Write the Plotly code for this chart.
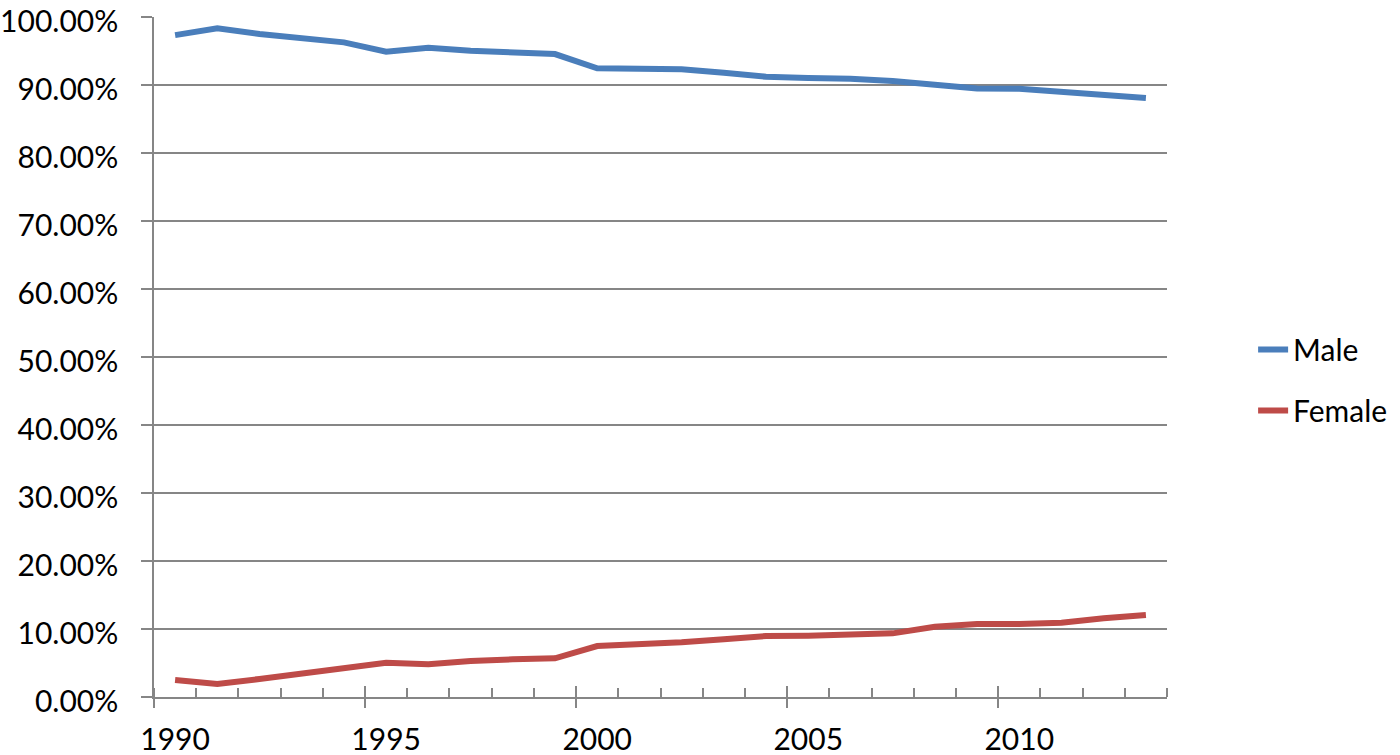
import plotly.graph_objects as go

years = list(range(1990, 2014))
male = [97.35, 98.34, 97.5, 96.87, 96.28, 94.9, 95.49, 95.04, 94.81, 94.56,
        92.46, 92.31, 92.31, 91.81, 91.22, 91.03, 90.93, 90.59, 90.0, 89.51,
        89.46, 89.01, 88.57, 88.09]
female = [2.5, 1.91, 2.65, 3.38, 4.12, 5.04, 4.8, 5.29, 5.54, 5.69,
          7.5, 7.75, 8.04, 8.48, 8.97, 9.01, 9.26, 9.36, 10.34, 10.74,
          10.74, 10.93, 11.57, 12.06]
tick_years = [1990, 1995, 2000, 2005, 2010]
tick_labels = [str(y) for y in tick_years]
y_ticks = [i / 10 for i in range(11)]

male_frac = [v / 100 for v in male]
female_frac = [v / 100 for v in female]

GRAY = "#868686"
FONT = dict(family="Lato, 'Liberation Sans', sans-serif", size=30, color="#000000")

fig = go.Figure()
fig.add_trace(go.Scatter(x=years, y=male_frac, mode="lines", name="Male",
                         line=dict(color="#4A7EBB", width=6), legendgroup="m"))
fig.add_trace(go.Scatter(x=years, y=female_frac, mode="lines", name="Female",
                         line=dict(color="#BE4B48", width=6), legendgroup="f"))
# helper traces so tick-only axes are drawn
fig.add_trace(go.Scatter(x=[None], y=[None], xaxis="x2", showlegend=False, hoverinfo="skip"))
fig.add_trace(go.Scatter(x=[None], y=[None], xaxis="x3", showlegend=False, hoverinfo="skip"))

xr = [years[0] - 0.5, years[-1] + 0.5]

fig.update_layout(
    width=1400, height=755,
    margin=dict(l=154, r=233, t=17, b=58, autoexpand=False),
    paper_bgcolor="white", plot_bgcolor="white",
    font=FONT,
    showlegend=True,
    legend=dict(x=1.085, xanchor="left", y=0.466, yanchor="middle",
                traceorder="grouped", tracegroupgap=19,
                font=FONT, bgcolor="rgba(0,0,0,0)"),
    xaxis=dict(range=xr, tickvals=tick_years, ticktext=tick_labels,
               ticks="", showgrid=False, zeroline=False, automargin=False,
               showline=True, linecolor=GRAY, linewidth=1.5,
               tickfont=FONT, ticklabelstandoff=15, ticklabeloverflow="allow"),
    xaxis2=dict(range=xr, overlaying="x", anchor="y", side="bottom",
                tick0=xr[0], dtick=5, ticks="outside", ticklen=10,
                tickcolor=GRAY, tickwidth=1.5, showticklabels=False,
                showgrid=False, zeroline=False, showline=False, automargin=False,
                minor=dict(ticks="inside", tick0=xr[0], dtick=1, ticklen=9,
                           tickcolor=GRAY, tickwidth=1.5, showgrid=False)),
    xaxis3=dict(range=xr, overlaying="x", anchor="y", side="bottom",
                tick0=xr[0], dtick=5, ticks="inside", ticklen=11,
                tickcolor=GRAY, tickwidth=1.5, showticklabels=False,
                showgrid=False, zeroline=False, showline=False, automargin=False),
    yaxis=dict(range=[0, 1.0001], tickvals=y_ticks, tickformat=".2%",
               showgrid=True, gridcolor=GRAY, gridwidth=1.5,
               zeroline=False, showline=True, linecolor=GRAY, linewidth=1.5,
               ticks="outside", ticklen=11, tickcolor=GRAY, tickwidth=1.5,
               tickfont=FONT, ticklabelstandoff=17, ticklabelshift=4,
               automargin=False, ticklabeloverflow="allow"),
)

fig.write_html("out.html",
               config={"displayModeBar": False},
               post_script="document.body.style.margin='0';document.body.style.overflow='hidden';")
